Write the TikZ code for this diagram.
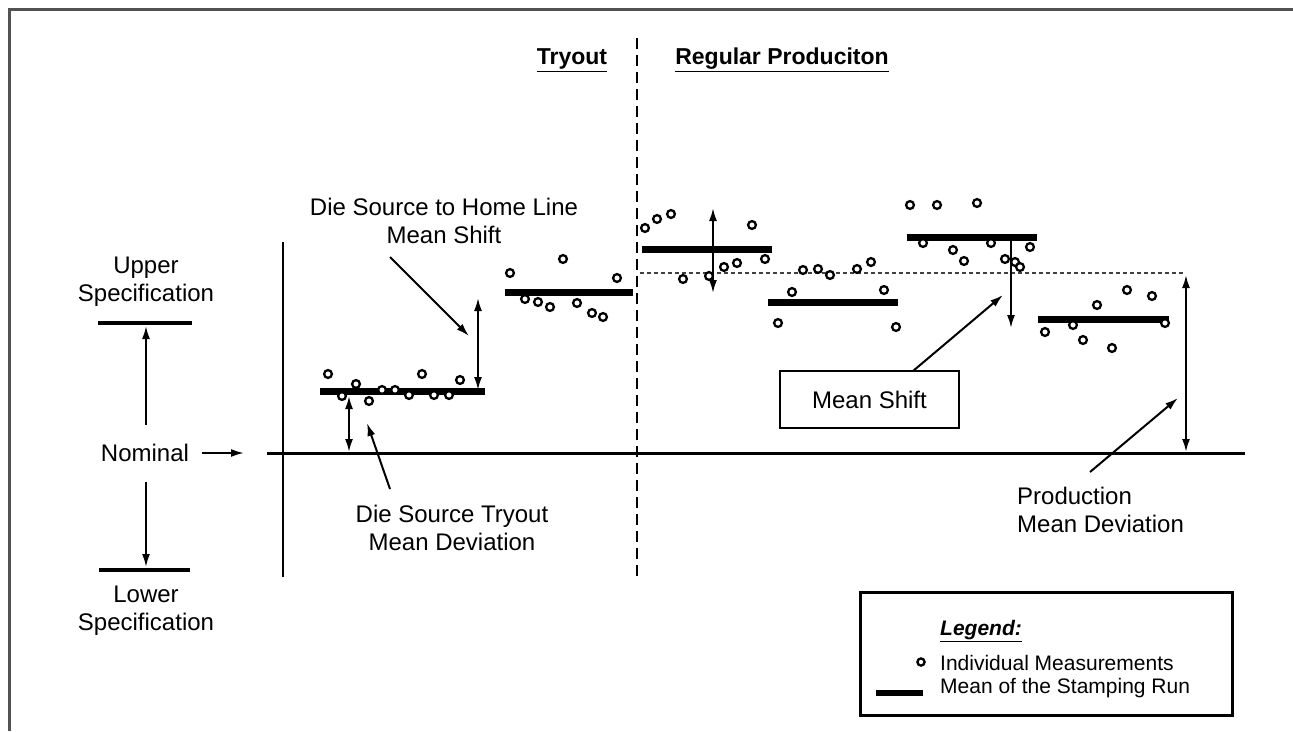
\documentclass[tikz,border=0pt]{standalone}
\usepackage{fontspec}
\setmainfont{Liberation Sans}
\usetikzlibrary{arrows.meta}
\begin{document}
\begin{tikzpicture}[x=1pt,y=-1pt,
  lbl/.style={font=\fontsize{24}{28}\selectfont, align=center, inner sep=0pt},
  ttl/.style={font=\fontsize{23}{27}\selectfont\bfseries, inner sep=0pt},
  lgd/.style={font=\fontsize{21}{25}\selectfont, inner sep=0pt, anchor=west},
  pt/.style={draw=black, line width=2.3pt, fill=white},
  meanbar/.style={line width=7pt},
  specbar/.style={line width=4.5pt},
  arr/.style={line width=2pt, -{Latex[length=13pt,width=8pt]}},
  darr/.style={line width=2pt, {Latex[length=13pt,width=8pt]}-{Latex[length=13pt,width=8pt]}},
]
\useasboundingbox (0,0) rectangle (1293,731);
\fill[white] (0,0) rectangle (1293,731);

% outer frame (top and left edges)
\draw[line width=3pt, color=black!68] (9,731) -- (9,9) -- (1293,9);

% phase headings and separator
\node[ttl] (tryout) at (572,60) {\underline{Tryout}};
\node[ttl] (regular) at (782,60) {\underline{Regular Produciton}};
\draw[line width=2.2pt, dash pattern=on 11pt off 6pt] (637,38) -- (637,582);

% specification limits
\node[lbl] (upper) at (146,282) {Upper\\Specification};
\node[lbl] (nominal) at (145,453) {Nominal};
\node[lbl] (lower) at (146,611) {Lower\\Specification};
\draw[specbar] (98,323) -- (192,323);
\draw[specbar] (99,570) -- (190,570);
\coordinate (upA) at (146,425);
\coordinate (upB) at (146,326);
\coordinate (dnA) at (146,482);
\coordinate (dnB) at (146,567);
\draw[arr] (upA) -- (upB);
\draw[arr] (dnA) -- (dnB);
\coordinate (nomA) at (202,453);
\coordinate (nomB) at (244,453);
\draw[arr] (nomA) -- (nomB);

% axes
\draw[line width=2.5pt] (283,242) -- (283,577);
\draw[line width=3pt] (267,453) -- (1245,453);

% production reference level
\draw[line width=2pt, color=black!75, dash pattern=on 4pt off 3pt] (640,273) -- (1183,273);

% stamping run means
\draw[meanbar] (320,391) -- (485,391);
\draw[meanbar] (505,292) -- (633,292);
\draw[meanbar] (642,249) -- (772,249);
\draw[meanbar] (768,302) -- (898,302);
\draw[meanbar] (907,237) -- (1037,237);
\draw[meanbar] (1038,319) -- (1169,319);

% individual measurements
\foreach \x/\y in {328/374, 342/396, 356/384, 369/401, 382/390, 395/390, 409/395,
  422/374, 434/395, 449/395, 460/380,
  510/273, 563/259, 617/278, 525/299, 538/302, 550/307, 577/303, 592/313, 603/317,
  645/228, 657/219, 671/214, 752/225, 683/279, 709/276, 724/267, 737/263, 765/259,
  792/292, 884/290, 778/323, 896/327, 803/270, 818/269, 830/275, 857/269, 871/262,
  910/205, 937/205, 977/203, 923/243, 953/250, 964/261, 991/243, 1005/259, 1015/262,
  1020/267, 1030/247,
  1097/305, 1127/290, 1152/296, 1045/332, 1083/340, 1112/348, 1073/325, 1165/323}
  \draw[pt] (\x,\y) circle[radius=3.9pt];

% die source to home line mean shift
\node[lbl] (dshl) at (444,221) {Die Source to Home Line\\Mean Shift};
\coordinate (hsA) at (478,390);
\coordinate (hsB) at (478,298);
\draw[darr] (hsA) -- (hsB);
\coordinate (hpA) at (390,257);
\coordinate (hpB) at (469,336);
\draw[arr] (hpA) -- (hpB);

% die source tryout mean deviation
\node[lbl] (dstmd) at (452,528) {Die Source Tryout\\Mean Deviation};
\coordinate (tdA) at (349,396);
\coordinate (tdB) at (349,452);
\draw[darr] (tdA) -- (tdB);
\coordinate (tpA) at (390,489);
\coordinate (tpB) at (367,423);
\draw[arr] (tpA) -- (tpB);

% first production run spread
\coordinate (p1A) at (713,208);
\coordinate (p1B) at (713,293);
\draw[darr] (p1A) -- (p1B);

% mean shift
\coordinate (msA) at (1011,240);
\coordinate (msB) at (1011,328);
\draw[arr] (msA) -- (msB);
\node[lbl, draw, line width=2.3pt, minimum width=179pt, minimum height=57pt] (msbox) at (869.5,399.5) {Mean Shift};
\coordinate (mpA) at (913,371);
\coordinate (mpB) at (1003,295);
\draw[arr] (mpA) -- (mpB);

% production mean deviation
\coordinate (pdA) at (1186,275);
\coordinate (pdB) at (1186,452);
\draw[darr] (pdA) -- (pdB);
\coordinate (ppA) at (1090,472);
\coordinate (ppB) at (1178,398);
\draw[arr] (ppA) -- (ppB);
\node[lbl, align=left, anchor=west] (prodmd) at (1017,510) {Production\\Mean Deviation};

% legend
\node[draw, line width=3pt, minimum width=372pt, minimum height=123pt, inner sep=0pt] (legend) at (1046,653.5) {};
\node[lgd, font=\fontsize{21}{25}\selectfont\bfseries\itshape] (lgdtitle) at (940,631) {\underline{Legend:}};
\draw[pt] (921,662) circle[radius=3.6pt];
\node[lgd] (lgdpt) at (940,663) {Individual Measurements};
\draw[line width=5.5pt] (876,693) -- (923,693);
\node[lgd] (lgdbar) at (940,688) {Mean of the Stamping Run};
\end{tikzpicture}
\end{document}
